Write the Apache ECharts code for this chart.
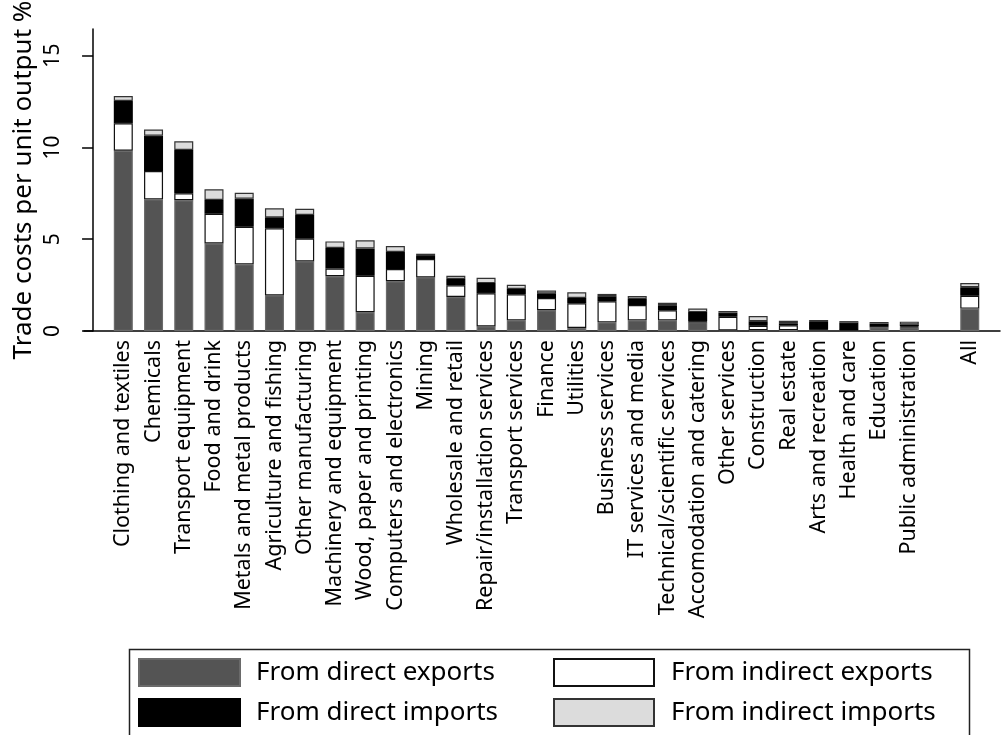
<!DOCTYPE html>
<html>
<head>
<meta charset="utf-8">
<script src="https://cdn.jsdelivr.net/npm/echarts@6.0.0/dist/echarts.min.js"></script>
<style>
    html, body { margin: 0; padding: 0; background: #fff; }
    #trade-cost-chart { width: 1002px; height: 735px; }
</style>
</head>
<body>
<div id="trade-cost-chart"></div>
<script>
// 行业名称（最后一项为全部）
var categories = ['Clothing and textiles', 'Chemicals', 'Transport equipment', 'Food and drink',
    'Metals and metal products', 'Agriculture and fishing', 'Other manufacturing',
    'Machinery and equipment', 'Wood, paper and printing', 'Computers and electronics', 'Mining',
    'Wholesale and retail', 'Repair/installation services', 'Transport services', 'Finance',
    'Utilities', 'Business services', 'IT services and media', 'Technical/scientific services',
    'Accomodation and catering', 'Other services', 'Construction', 'Real estate',
    'Arts and recreation', 'Health and care', 'Education', 'Public administration', 'All'];

var directExports   = [9.82, 7.17, 7.12, 4.77, 3.63, 1.94, 3.79, 2.98, 1.02, 2.71, 2.92, 1.85, 0.25, 0.58,
    1.13, 0.16, 0.47, 0.58, 0.58, 0.49, 0.03, 0.04, 0.05, 0.04, 0.03, 0.20, 0.20, 1.22];
var indirectExports = [1.49, 1.54, 0.38, 1.62, 2.05, 3.65, 1.24, 0.42, 1.99, 0.67, 1.00, 0.64, 1.80, 1.42,
    0.67, 1.35, 1.15, 0.84, 0.55, 0.03, 0.75, 0.24, 0.26, 0.03, 0.03, 0.07, 0.05, 0.70];
var directImports   = [1.22, 1.93, 2.36, 0.75, 1.53, 0.60, 1.29, 1.12, 1.49, 0.92, 0.16, 0.34, 0.56, 0.29,
    0.25, 0.29, 0.27, 0.32, 0.27, 0.51, 0.22, 0.25, 0.11, 0.42, 0.40, 0.13, 0.11, 0.46];
var indirectImports = [0.27, 0.33, 0.47, 0.58, 0.32, 0.49, 0.34, 0.36, 0.44, 0.33, 0.13, 0.18, 0.29, 0.23,
    0.16, 0.31, 0.13, 0.17, 0.14, 0.19, 0.09, 0.29, 0.14, 0.11, 0.08, 0.09, 0.15, 0.23];

var yTicks = [0, 5, 10, 15];

// 每个行业在横轴上的位置，"All" 前空一格
var slotOf = function(i){
    return i < categories.length - 1 ? i + 1 : i + 2;
};
var slots = categories.map(function(c, i){ return slotOf(i); });
var slotName = {};
categories.forEach(function(c, i){ slotName[slotOf(i)] = c; });

// 数值放在第一维，保证堆叠的是纵轴
var toPairs = function(values){
    return values.map(function(v, i){ return [v, slotOf(i)]; });
};

var font = 'Noto Sans';
var makeSeries = function(name, values, fill, border){
    return {
        name: name,
        type: 'bar',
        stack: 'total',
        barWidth: 19,
        encode: { x: 1, y: 0 },
        data: toPairs(values),
        itemStyle: { color: fill, borderColor: border, borderWidth: 1.2 },
        emphasis: { disabled: true }
    };
};

var legendBase = {
    orient: 'vertical',
    top: 658,
    padding: 0,
    icon: 'rect',
    itemHeight: 27,
    itemGap: 11,
    selectedMode: false
};

var chart = echarts.init(document.getElementById('trade-cost-chart'), null, { renderer: 'canvas' });
chart.setOption({
    animation: false,
    backgroundColor: '#ffffff',
    textStyle: { fontFamily: font, color: '#000' },
    grid: { left: 84, right: 2, top: 29, bottom: 404, containLabel: false, outerBoundsMode: 'none' },
    xAxis: {
        type: 'value',
        min: -0.3,
        max: 30,
        splitLine: { show: false },
        axisTick: { show: false },
        axisLine: { show: true, lineStyle: { color: '#000', width: 1.5 } },
        axisLabel: {
            customValues: slots,
            rotate: 90,
            margin: 9,
            fontSize: 21.5,
            fontFamily: font,
            color: '#000',
            formatter: function(v){ return slotName[v] || ''; }
        }
    },
    yAxis: {
        type: 'value',
        min: 0,
        max: 16.45,
        name: 'Trade costs per unit output %',
        nameLocation: 'middle',
        nameRotate: 90,
        nameGap: 47,
        nameMoveOverlap: false,
        nameTextStyle: { fontSize: 26, fontFamily: font, color: '#000' },
        splitLine: { show: false },
        axisLine: { show: true, lineStyle: { color: '#000', width: 1.5 } },
        axisTick: { show: true, customValues: yTicks, length: 11, lineStyle: { color: '#000', width: 1.5 } },
        axisLabel: { customValues: yTicks, rotate: 90, margin: 20, fontSize: 21, fontFamily: font, color: '#000' }
    },
    legend: [
        echarts.util.merge({
            left: 138,
            itemWidth: 101,
            textStyle: { fontSize: 26, fontFamily: font, color: '#000', lineHeight: 27, padding: [0, 0, 0, 11] },
            data: ['From direct exports', 'From direct imports']
        }, legendBase),
        echarts.util.merge({
            left: 553,
            itemWidth: 100,
            textStyle: { fontSize: 26, fontFamily: font, color: '#000', lineHeight: 27, padding: [0, 0, 0, 12] },
            data: ['From indirect exports', 'From indirect imports']
        }, legendBase)
    ],
    // 图例外框
    graphic: [{
        type: 'rect',
        left: 127,
        top: 647,
        shape: { width: 840, height: 87 },
        style: { fill: 'none', stroke: '#222', lineWidth: 1.5 },
        silent: true
    }],
    series: [
        makeSeries('From direct exports', directExports, '#545454', '#6a6a6a'),
        makeSeries('From indirect exports', indirectExports, '#ffffff', '#111111'),
        makeSeries('From direct imports', directImports, '#000000', '#000000'),
        makeSeries('From indirect imports', indirectImports, '#dcdcdc', '#333333')
    ]
});
</script>
</body>
</html>
